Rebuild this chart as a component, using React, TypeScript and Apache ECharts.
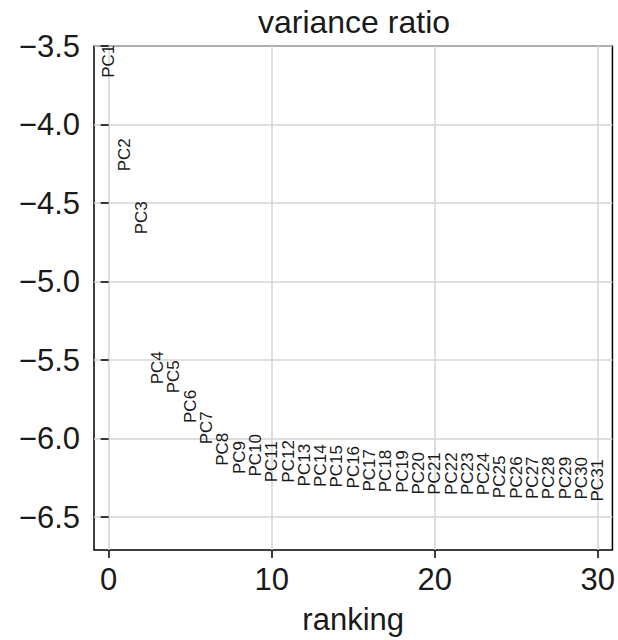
import React, { useEffect, useRef } from "react";
import * as echarts from "echarts";

// log10 of the explained variance ratio per principal component, by rank
const pcNames = [
  "PC1", "PC2", "PC3", "PC4", "PC5", "PC6", "PC7", "PC8", "PC9", "PC10",
  "PC11", "PC12", "PC13", "PC14", "PC15", "PC16", "PC17", "PC18", "PC19", "PC20",
  "PC21", "PC22", "PC23", "PC24", "PC25", "PC26", "PC27", "PC28", "PC29", "PC30", "PC31",
];
const logVarianceRatio = [
  -3.702, -4.298, -4.699, -5.655, -5.712, -5.901, -6.037, -6.174, -6.226, -6.242,
  -6.279, -6.281, -6.305, -6.308, -6.312, -6.318, -6.338, -6.342, -6.346, -6.357,
  -6.358, -6.359, -6.360, -6.362, -6.380, -6.384, -6.385, -6.386, -6.387, -6.389, -6.401,
];
const xTicks = [0, 10, 20, 30];
const yTicks = [-6.5, -6.0, -5.5, -5.0, -4.5, -4.0, -3.5];

const FONT = "'Liberation Sans', Arial, sans-serif";

export default function App() {
  const ref = useRef<HTMLDivElement>(null);

  useEffect(() => {
    if (!ref.current) return;
    const chart = echarts.init(ref.current, undefined, { renderer: "svg" });
    const points = logVarianceRatio.map((v, i) => [i, v, pcNames[i]]);

    chart.setOption({
      animation: false,
      backgroundColor: "#ffffff",
      grid: {
        left: 94,
        right: 4,
        top: 46,
        bottom: 85,
        show: true,
        borderColor: "#000000",
        borderWidth: 1.5,
      },
      graphic: [
        {
          type: "text",
          x: 354,
          y: 22,
          style: {
            text: "variance ratio",
            fontFamily: FONT,
            fontSize: 32,
            fill: "#1a1a1a",
            align: "center",
            verticalAlign: "middle",
          },
        },
      ],
      xAxis: {
        type: "value",
        min: -0.9,
        max: 30.9,
        name: "ranking",
        nameLocation: "middle",
        nameGap: 54,
        nameTextStyle: { fontFamily: FONT, fontSize: 31, color: "#1a1a1a" },
        axisLine: { show: false },
        axisTick: {
          show: true,
          length: 8,
          customValues: xTicks,
          lineStyle: { color: "#000000", width: 1.5 },
        },
        axisLabel: {
          customValues: xTicks,
          margin: 14,
          fontFamily: FONT,
          fontSize: 31,
          color: "#1a1a1a",
        },
        splitLine: { show: true, lineStyle: { color: "#d4d4d4", width: 1.5 } },
      },
      yAxis: {
        type: "value",
        min: -6.71,
        max: -3.5,
        axisLine: { show: false },
        axisTick: {
          show: true,
          length: 8,
          customValues: yTicks,
          lineStyle: { color: "#000000", width: 1.5 },
        },
        axisLabel: {
          customValues: yTicks,
          margin: 14,
          fontFamily: FONT,
          fontSize: 31,
          color: "#1a1a1a",
          formatter: (v: number) => v.toFixed(1).replace("-", "\u2212"),
        },
        splitLine: { show: true, lineStyle: { color: "#d4d4d4", width: 1.5 } },
      },
      series: [
        {
          type: "custom",
          clip: true,
          data: points,
          renderItem: (params: any, api: any) => {
            const pt = api.coord([api.value(0), api.value(1)]);
            return {
              type: "text",
              x: pt[0],
              y: pt[1],
              rotation: Math.PI / 2,
              style: {
                text: pcNames[params.dataIndex],
                fontFamily: FONT,
                fontSize: 17,
                fill: "#1a1a1a",
                align: "left",
                verticalAlign: "middle",
              },
            };
          },
        },
      ],
    });

    return () => chart.dispose();
  }, []);

  return (
    <div
      ref={ref}
      style={{ position: "fixed", left: 0, top: 0, width: 618, height: 640 }}
    />
  );
}
